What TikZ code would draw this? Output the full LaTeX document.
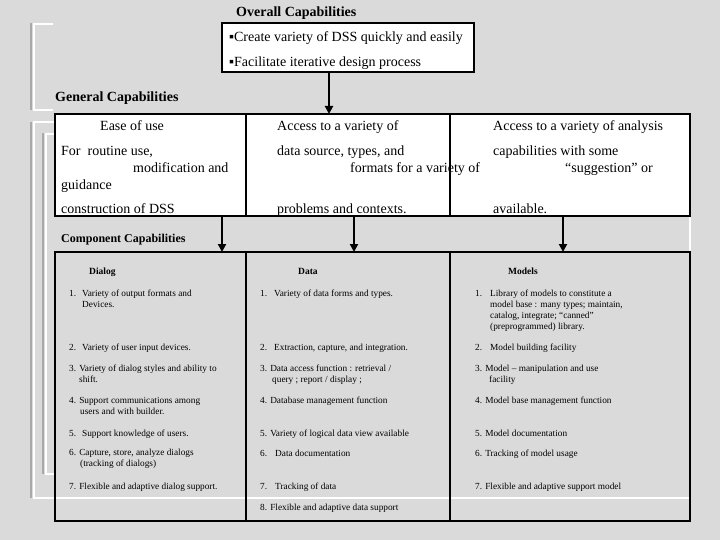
\documentclass[tikz,border=0pt]{standalone}
\usepackage{fontspec}
\setmainfont{Liberation Serif}
\usetikzlibrary{arrows.meta,positioning}
\definecolor{marble}{HTML}{DADADA}
\definecolor{rimgray}{HTML}{A9A9A9}

\begin{document}
\begin{tikzpicture}[x=1pt, y=-1pt, font=\fontsize{14}{16}\selectfont,
cell/.style={draw,line width=1.8pt,fill=white,anchor=north west,inner sep=0pt,outer sep=0pt},
col/.style={draw,line width=2.2pt,anchor=north west,inner sep=0pt,outer sep=0pt},
txt/.style={anchor=base west,inner sep=0pt},
hdr/.style={txt,font=\fontsize{14}{16}\selectfont\bfseries},
item/.style={txt,align=left,font=\fontsize{9.3}{11}\selectfont},
arr/.style={-{Triangle[length=8pt,width=8pt]},line width=2.6pt},
rim/.style={draw=white,line width=1.6pt},
rimside/.style={draw=rimgray,line width=2pt}]
\useasboundingbox (0,0) rectangle (720,540);
\fill[marble] (0,0) rectangle (720,540);
% faint slide frames
\draw[rimside] (31,23) -- (31,110); \draw[rim] (53,24) -| (34,110) -- (53,110);
\draw[rimside] (31,122) -- (31,498); \draw[rim] (55,122) -| (34,498) -| (690,216);
\draw[rimside] (43,133) -- (43,474); \draw[rim] (55,134) -| (46,474) -- (55,474);
% overall
\node[hdr] (ovt) at (236,17) {Overall Capabilities};
\node[cell,minimum width=252pt,minimum height=49pt] (ov) at (222,23) {};
\node[txt] (ov1) at (229,42) {▪Create variety of DSS quickly and easily};
\node[txt] (ov2) at (229,67) {▪Facilitate iterative design process};
% general
\node[hdr] (gent) at (55,102) {General Capabilities};
\node[cell,minimum width=191pt,minimum height=102pt] (g1) at (55,114) {};
\node[cell,minimum width=204pt,minimum height=102pt,right=0pt of g1] (g2) {};
\node[cell,minimum width=240pt,minimum height=102pt,right=0pt of g2] (g3) {};
\node[txt] (g1a) at (100,131) {Ease of use};
\node[txt] (g1b) at (61,156) {For\ \ routine use,};
\node[txt] (g1c) at (133,173) {modification and};
\node[txt] (g1d) at (61,190) {guidance};
\node[txt] (g1e) at (61,214) {construction of DSS};
\node[txt] (g2a) at (277,131) {Access to a variety of};
\node[txt] (g2b) at (277,156) {data source, types, and};
\node[txt] (g2c) at (350,173) {formats for a variety of};
\node[txt] (g2d) at (277,214) {problems and contexts.};
\node[txt] (g3a) at (493,131) {Access to a variety of analysis};
\node[txt] (g3b) at (493,156) {capabilities with some};
\node[txt] (g3c) at (565,173) {“suggestion” or};
\node[txt] (g3d) at (493,214) {available.};
\draw[arr] ([xshift=-19pt]ov.south) -- ([xshift=-19pt]ov.south |- g2.north);
% component
\node[hdr,font=\fontsize{12}{14}\selectfont\bfseries] (compt) at (61,242) {Component Capabilities};
\node[col,minimum width=191pt,minimum height=269pt] (k1) at (55,252) {};
\node[col,minimum width=204pt,minimum height=269pt,right=0pt of k1] (k2) {};
\node[col,minimum width=240pt,minimum height=269pt,right=0pt of k2] (k3) {};
\draw[arr] ([xshift=71.5pt]g1.south) -- ([xshift=71.5pt]g1.south |- k1.north);
\draw[arr] ([xshift=6pt]g2.south) -- ([xshift=6pt]g2.south |- k2.north);
\draw[arr] ([xshift=-7pt]g3.south) -- ([xshift=-7pt]g3.south |- k3.north);
\node[txt,font=\fontsize{9.5}{11}\selectfont\bfseries] (dlg) at (89,274) {Dialog};
\node[txt,font=\fontsize{9.5}{11}\selectfont\bfseries] (dat) at (298,274) {Data};
\node[txt,font=\fontsize{9.5}{11}\selectfont\bfseries] (mdl) at (508,274) {Models};
% items: y is the baseline of the last line
\foreach \y/\t [count=\i] in {
  307/{1.\hspace{6pt}Variety of output formats and\\\hspace*{13pt}Devices.},
  350/{2.\hspace{6pt}Variety of user input devices.},
  382/{3. Variety of dialog styles and ability to\\\hspace*{10pt}shift.},
  414/{4. Support communications among\\\hspace*{11pt}users and with builder.},
  436/{5.\hspace{6pt}Support knowledge of users.},
  466/{6. Capture, store, analyze dialogs\\\hspace*{11pt}(tracking of dialogs)},
  489/{7. Flexible and adaptive dialog support.}}
  \node[item] (dlg\i) at (69,\y) {\t};
\foreach \y/\t [count=\i] in {
  296/{1.\hspace{7pt}Variety of data forms and types.},
  350/{2.\hspace{7pt}Extraction, capture, and integration.},
  382/{3. Data access function : retrieval /\\\hspace*{12pt}query ; report / display ;},
  403/{4. Database management function},
  436/{5. Variety of logical data view available},
  456/{6.\hspace{8pt}Data documentation},
  489/{7.\hspace{8pt}Tracking of data},
  510/{8. Flexible and adaptive data support}}
  \node[item] (dat\i) at (260,\y) {\t};
\foreach \y/\t [count=\i] in {
  329/{1.\hspace{8pt}Library of models to constitute a\\\hspace*{15pt}model base : many types; maintain,\\\hspace*{15pt}catalog, integrate; “canned”\\\hspace*{15pt}(preprogrammed) library.},
  350/{2.\hspace{8pt}Model building facility},
  382/{3. Model – manipulation and use\\\hspace*{14pt}facility},
  403/{4. Model base management function},
  436/{5. Model documentation},
  456/{6. Tracking of model usage},
  489/{7. Flexible and adaptive support model}}
  \node[item] (mdl\i) at (475,\y) {\t};
\end{tikzpicture}
\end{document}
